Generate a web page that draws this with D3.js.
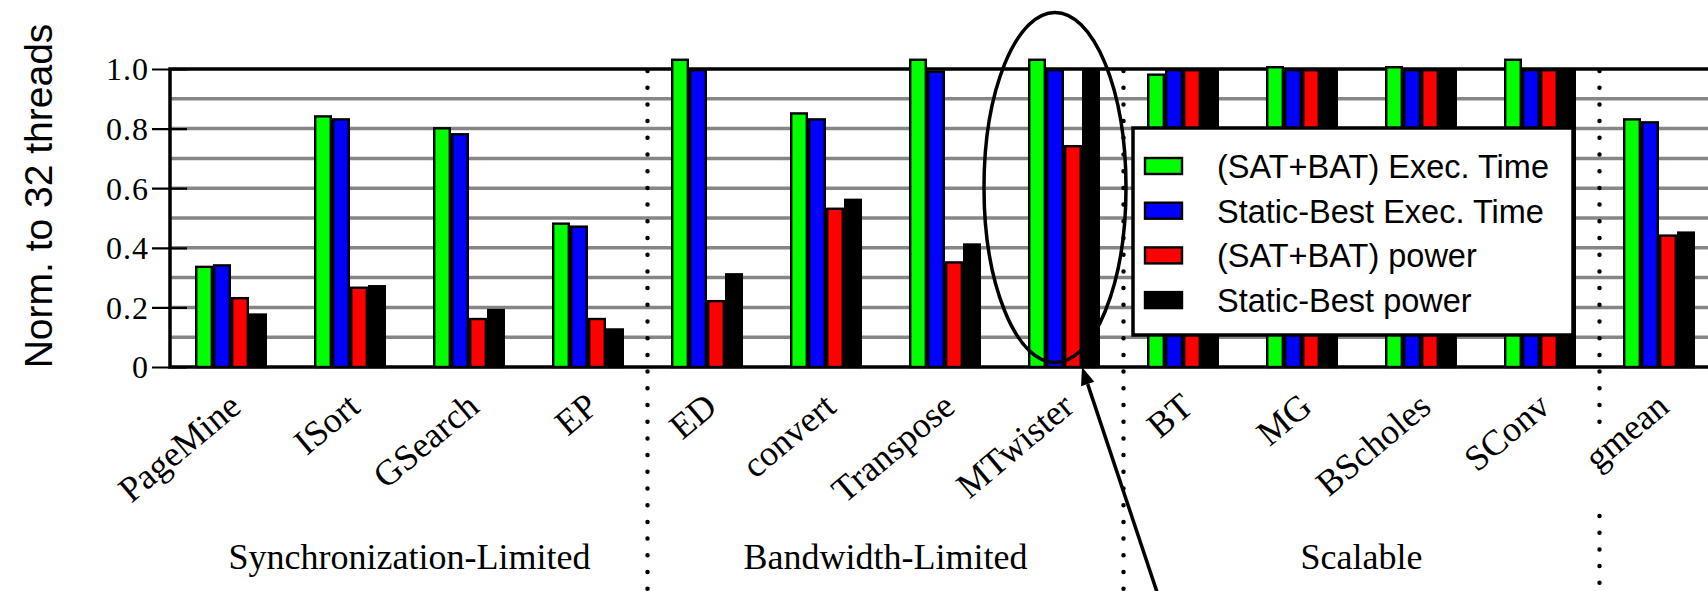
<!DOCTYPE html>
<html>
<head>
<meta charset="utf-8">
<script src="https://cdn.jsdelivr.net/npm/d3@7"></script>
<style>
  html, body { margin: 0; padding: 0; background: #ffffff; overflow: hidden; }
  svg { display: block; }
</style>
</head>
<body>
<svg id="chart" width="1708" height="591"></svg>
<script>
// Benchmarks, in plot order
const categories = ["PageMine", "ISort", "GSearch", "EP", "ED", "convert", "Transpose",
                    "MTwister", "BT", "MG", "BScholes", "SConv", "gmean"];

// Benchmark classes (first and last benchmark index of each)
const classNames = ["Synchronization-Limited", "Bandwidth-Limited", "Scalable"];
const classFirst = [0, 4, 8];
const classLast  = [3, 7, 11];

// Dotted dividers follow these benchmark indices
const dividerAfter = [3, 7, 11];

// Series (normalized to 32 threads)
const seriesNames  = ["(SAT+BAT) Exec. Time", "Static-Best Exec. Time", "(SAT+BAT) power", "Static-Best power"];
const seriesColors = ["#00ff00", "#0000ff", "#ff0000", "#000000"];
const satBatTime   = [0.34, 0.845, 0.805, 0.485, 1.035, 0.855, 1.035, 1.035, 0.985, 1.01, 1.01, 1.035, 0.835];
const staticTime   = [0.345, 0.835, 0.785, 0.475, 1.0, 0.835, 0.995, 1.0, 1.0, 1.0, 1.0, 1.0, 0.825];
const satBatPower  = [0.235, 0.27, 0.165, 0.165, 0.225, 0.535, 0.355, 0.745, 1.0, 1.0, 1.0, 1.0, 0.445];
const staticPower  = [0.18, 0.275, 0.195, 0.13, 0.315, 0.565, 0.415, 1.0, 1.0, 1.0, 1.0, 1.0, 0.455];

// Axis ticks and grid
const yTickValues = [0, 0.2, 0.4, 0.6, 0.8, 1.0];
const yTickLabels = ["0", "0.2", "0.4", "0.6", "0.8", "1.0"];
const gridValues  = [0.1, 0.2, 0.3, 0.4, 0.5, 0.6, 0.7, 0.8, 0.9];

const yTitle = "Norm. to 32 threads";

// Highlighted benchmark (ellipse + arrow)
const highlight = "MTwister";

// ---------------------------------------------------------------------------
const series = [satBatTime, staticTime, satBatPower, staticPower];
const table = categories.map((c, i) => ({ name: c, values: series.map(s => s[i]) }));

const W = 1708, H = 591;
const plot = { left: 170, right: 1720, top: 69, bottom: 367 };

const svg = d3.select("#chart");

const x = d3.scaleBand()
  .domain(categories)
  .range([171.5, 1718.5])
  .paddingInner(0.395)
  .paddingOuter(0.1975);

const xs = d3.scaleBand()
  .domain(d3.range(series.length))
  .range([0, x.bandwidth()]);

const y = d3.scaleLinear().domain([0, 1]).range([plot.bottom, plot.top]);

const serif = "'Liberation Serif', 'Times New Roman', serif";
const sans  = "'Liberation Sans', Arial, Helvetica, sans-serif";

// Horizontal grid
svg.append("g")
  .selectAll("line")
  .data(gridValues)
  .join("line")
  .attr("x1", plot.left).attr("x2", plot.right)
  .attr("y1", d => y(d)).attr("y2", d => y(d))
  .attr("stroke", "#868686")
  .attr("stroke-width", 3.5);

// Y axis: ticks cross the left border, labels on the outside
const yAxis = d3.axisLeft(y)
  .tickValues(yTickValues)
  .tickFormat((d, i) => yTickLabels[i])
  .tickSizeInner(-17)
  .tickSizeOuter(0)
  .tickPadding(0);

const yAxisG = svg.append("g")
  .attr("transform", `translate(${plot.left},0)`)
  .call(yAxis);
yAxisG.select(".domain").remove();
yAxisG.selectAll(".tick line")
  .attr("x1", -18).attr("x2", 17)
  .attr("stroke", "#000").attr("stroke-width", 2.2);
yAxisG.selectAll(".tick text")
  .attr("x", -21)
  .attr("dy", "0.34em")
  .attr("font-family", serif)
  .attr("font-size", 32)
  .attr("letter-spacing", 1)
  .attr("fill", "#000");

// Plot frame (left, top, bottom)
svg.append("path")
  .attr("d", `M${plot.right},${plot.top}H${plot.left}V${plot.bottom}H${plot.right}`)
  .attr("fill", "none")
  .attr("stroke", "#000")
  .attr("stroke-width", 3.5);

// Dotted class dividers
const step = x.step();
const gap = step - x.bandwidth();
const dividerX = i => x(categories[i]) + x.bandwidth() + gap / 2;
const dividerSegments = [
  [[plot.top + 2, H + 10]],
  [[plot.top + 2, H + 10]],
  [[plot.top + 2, 430], [516, H + 10]]
];
dividerAfter.forEach((idx, k) => {
  dividerSegments[k].forEach(seg => {
    svg.append("line")
      .attr("x1", dividerX(idx)).attr("x2", dividerX(idx))
      .attr("y1", seg[0]).attr("y2", seg[1])
      .attr("stroke", "#000")
      .attr("stroke-width", 4.5)
      .attr("stroke-linecap", "round")
      .attr("stroke-dasharray", "0,16.7");
  });
});

// Bars
const groups = svg.append("g")
  .selectAll("g")
  .data(table)
  .join("g")
  .attr("transform", d => `translate(${x(d.name)},0)`);

groups.selectAll("rect")
  .data(d => d.values.map((v, i) => ({ v, i })))
  .join("rect")
  .attr("x", d => xs(d.i) + 1.2)
  .attr("width", xs.bandwidth() - 2.4)
  .attr("y", d => y(d.v) + 1.2)
  .attr("height", d => y(0) - y(d.v) - 1.2)
  .attr("fill", d => seriesColors[d.i])
  .attr("stroke", "#000")
  .attr("stroke-width", 2.4);

// Benchmark labels, rotated
svg.append("g")
  .selectAll("text")
  .data(categories)
  .join("text")
  .attr("transform", d => `translate(${x(d) + x.bandwidth() / 2 + 12},410) rotate(-40)`)
  .attr("text-anchor", "end")
  .attr("font-family", serif)
  .attr("font-size", 36)
  .attr("fill", "#000")
  .text(d => d);

// Class labels
svg.append("g")
  .selectAll("text")
  .data(classNames)
  .join("text")
  .attr("x", (d, i) => (x(categories[classFirst[i]]) + x(categories[classLast[i]]) + x.bandwidth()) / 2)
  .attr("y", 569)
  .attr("text-anchor", "middle")
  .attr("font-family", serif)
  .attr("font-size", 36)
  .attr("fill", "#000")
  .text(d => d);

// Y axis title
svg.append("text")
  .attr("transform", "translate(52,196) rotate(-90)")
  .attr("text-anchor", "middle")
  .attr("font-family", sans)
  .attr("font-size", 39)
  .attr("fill", "#000")
  .text(yTitle);

// Legend
const legend = svg.append("g").attr("transform", "translate(1133,128)");
legend.append("rect")
  .attr("width", 440).attr("height", 207)
  .attr("fill", "#fff")
  .attr("stroke", "#000")
  .attr("stroke-width", 3.5);
const rows = legend.selectAll("g.row")
  .data(seriesNames)
  .join("g")
  .attr("class", "row")
  .attr("transform", (d, i) => `translate(0,${38 + i * 44.7})`);
rows.append("rect")
  .attr("x", 12).attr("y", -8)
  .attr("width", 37).attr("height", 16)
  .attr("fill", (d, i) => seriesColors[i])
  .attr("stroke", "#000")
  .attr("stroke-width", 2.4);
rows.append("text")
  .attr("x", 84).attr("y", 12)
  .attr("font-family", sans)
  .attr("font-size", 32.5)
  .attr("fill", "#000")
  .text(d => d);

// Highlight ellipse around the chosen benchmark's bars
const hx = x(highlight);
svg.append("ellipse")
  .attr("cx", hx + 1.5 * xs.bandwidth())
  .attr("cy", (y(1.19) + y(0.015)) / 2)
  .attr("rx", 71)
  .attr("ry", (y(0.015) - y(1.19)) / 2)
  .attr("fill", "none")
  .attr("stroke", "#000")
  .attr("stroke-width", 3.5);

// Arrow pointing at the highlighted group
const tipX = hx + xs(3), tipY = y(0);
const tailX = tipX + 78, tailY = H + 10;
const ang = Math.atan2(tipY - tailY, tipX - tailX);
const headLen = 18, headHalf = 7;
const bx = tipX - headLen * Math.cos(ang), by = tipY - headLen * Math.sin(ang);
svg.append("line")
  .attr("x1", tailX).attr("y1", tailY)
  .attr("x2", bx).attr("y2", by)
  .attr("stroke", "#000")
  .attr("stroke-width", 3.5);
svg.append("path")
  .attr("d", `M${tipX},${tipY}
              L${bx - headHalf * Math.sin(ang)},${by + headHalf * Math.cos(ang)}
              L${bx + headHalf * Math.sin(ang)},${by - headHalf * Math.cos(ang)}Z`)
  .attr("fill", "#000");
</script>
</body>
</html>
